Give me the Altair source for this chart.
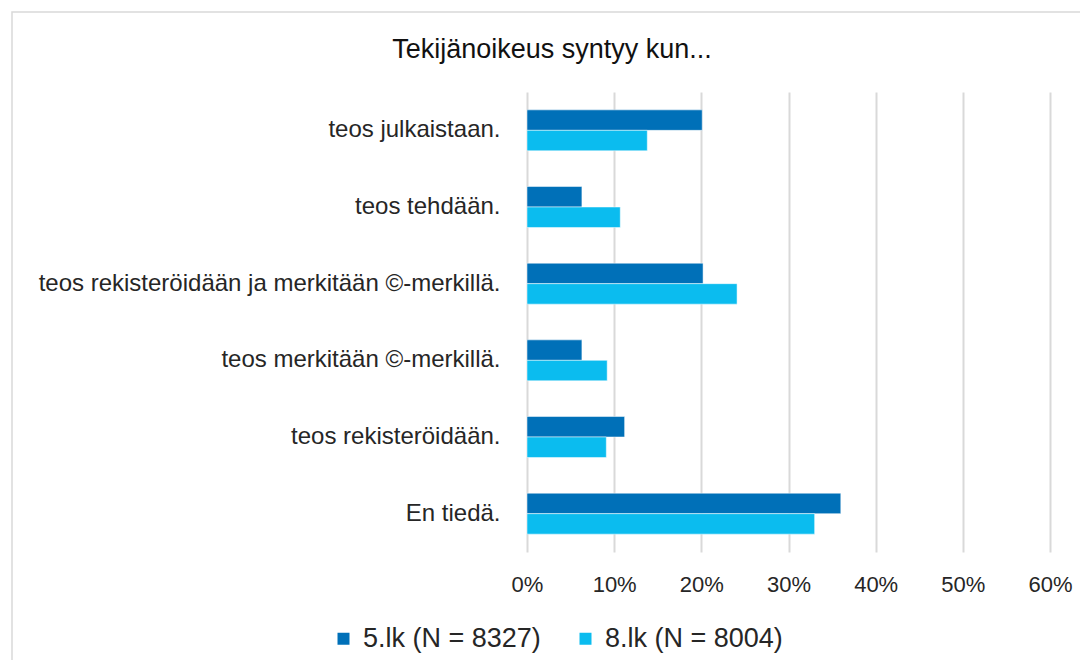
import altair as alt
import pandas as pd

title_text = "Tekijänoikeus syntyy kun..."
categories = [
    "teos julkaistaan.",
    "teos tehdään.",
    "teos rekisteröidään ja merkitään ©-merkillä.",
    "teos merkitään ©-merkillä.",
    "teos rekisteröidään.",
    "En tiedä.",
]
series = ["5.lk (N = 8327)", "8.lk (N = 8004)"]
values_5lk = [0.201, 0.063, 0.202, 0.063, 0.112, 0.360]
values_8lk = [0.138, 0.107, 0.241, 0.092, 0.091, 0.330]
colors = ["#0070B8", "#0BBCEF"]
x_ticks = [0.0, 0.1, 0.2, 0.3, 0.4, 0.5, 0.6]

rows = []
for c, a, b in zip(categories, values_5lk, values_8lk):
    rows.append({"kysymys": c, "ryhma": series[0], "osuus": a})
    rows.append({"kysymys": c, "ryhma": series[1], "osuus": b})
df = pd.DataFrame(rows)

FONT = "Liberation Sans"
W, H = 523, 460

one = pd.DataFrame({"t": [title_text]})

border = alt.Chart(one).mark_rect(
    fillOpacity=0, stroke="#D9D9D9", strokeWidth=1.5
).encode(
    x=alt.value(-515), x2=alt.value(700), y=alt.value(-80), y2=alt.value(700)
)

title = alt.Chart(one).mark_text(
    font=FONT, fontSize=27, color="#111111", align="center", baseline="middle"
).encode(
    text="t:N", x=alt.value(25), y=alt.value(-42)
)

bars = alt.Chart(df).mark_bar(stroke="white", strokeWidth=0.5).encode(
    y=alt.Y(
        "kysymys:N",
        sort=categories,
        scale=alt.Scale(paddingInner=0.466, paddingOuter=0.233),
        axis=alt.Axis(
            title=None, domain=False, ticks=False, labelPadding=27,
            labelFontSize=24, labelColor="#262626", labelLimit=700, labelFont=FONT,
        ),
    ),
    yOffset=alt.YOffset("ryhma:N", sort=series, scale=alt.Scale(paddingInner=0, paddingOuter=0)),
    x=alt.X(
        "osuus:Q",
        scale=alt.Scale(domain=[0, 0.6], nice=False),
        axis=alt.Axis(
            format=".0%", values=x_ticks, title=None, domain=False, ticks=False,
            grid=True, gridColor="#D9D9D9", gridWidth=2, labelPadding=22,
            labelFontSize=22, labelColor="#262626", labelFont=FONT, labelFlush=False,
        ),
    ),
    color=alt.Color(
        "ryhma:N",
        sort=series,
        scale=alt.Scale(domain=series, range=colors),
        legend=alt.Legend(
            title=None, orient="none", legendX=-197, legendY=533,
            direction="horizontal", symbolType="square", symbolSize=144,
            symbolStrokeWidth=0, labelFontSize=27, labelFont=FONT, labelLimit=400,
            labelColor="#262626", labelOffset=6, columnPadding=31,
        ),
    ),
)

chart = alt.layer(border, title, bars).properties(
    width=W,
    height=H,
    padding={"left": 519, "top": 84, "right": 30, "bottom": 108},
    autosize=alt.AutoSizeParams(type="none"),
).configure_view(stroke=None)

chart.save("out.html", embed_options={"renderer": "svg", "actions": False})
